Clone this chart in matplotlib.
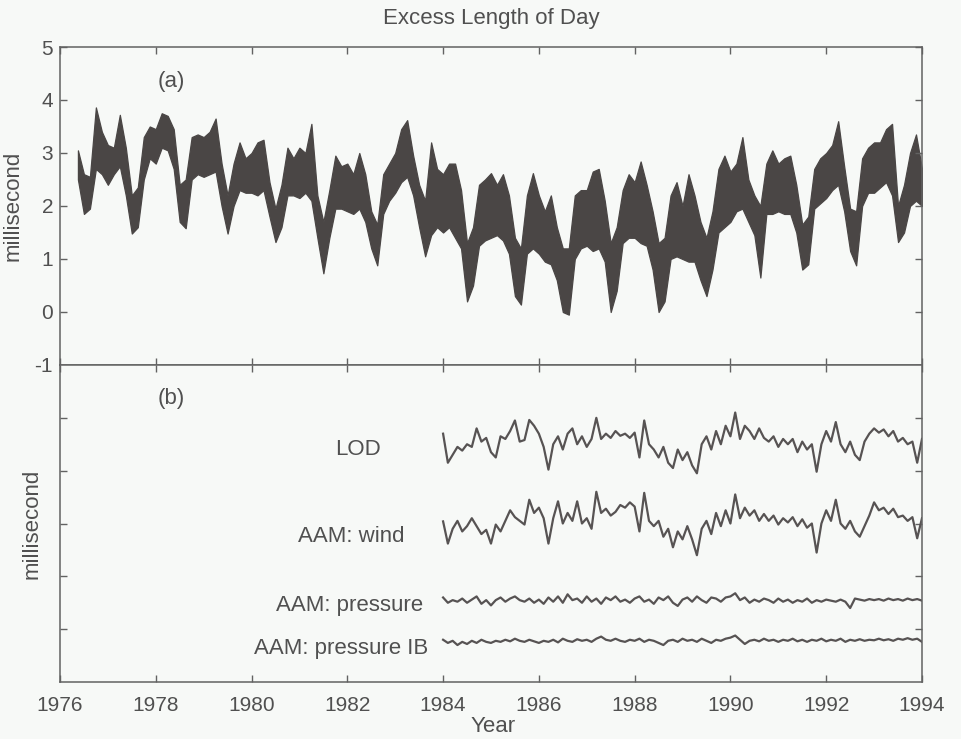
import numpy as np
import matplotlib

matplotlib.use("Agg")
import matplotlib.pyplot as plt

plt.rcParams["font.family"] = ["Liberation Sans", "DejaVu Sans"]
plt.rcParams["axes.unicode_minus"] = False

# ---- panel (a): excess LOD, band (low / high per 1/8 year)
lod_t = np.arange(1976.375, 1994.0001, 0.125)
lod_low = [
    2.50, 1.85, 1.95, 2.70, 2.60,                          # 1976
    2.40, 2.60, 2.75, 2.20, 1.48, 1.60, 2.50, 2.90,        # 1977
    2.80, 3.10, 3.05, 2.70, 1.70, 1.58, 2.50, 2.60,        # 1978
    2.55, 2.60, 2.65, 2.00, 1.48, 2.00, 2.30, 2.25,        # 1979
    2.25, 2.20, 2.30, 1.80, 1.32, 1.60, 2.20, 2.20,        # 1980
    2.15, 2.25, 2.10, 1.40, 0.73, 1.40, 1.95, 1.95,        # 1981
    1.90, 1.85, 1.95, 1.70, 1.20, 0.88, 1.85, 2.10,        # 1982
    2.25, 2.45, 2.55, 2.20, 1.60, 1.05, 1.45, 1.60,        # 1983
    1.50, 1.60, 1.40, 1.20, 0.20, 0.50, 1.25, 1.35,        # 1984
    1.40, 1.45, 1.35, 1.10, 0.30, 0.14, 1.10, 1.20,        # 1985
    1.10, 0.95, 0.90, 0.60, 0.00, -0.05, 1.00, 1.20,       # 1986
    1.25, 1.15, 1.20, 0.95, 0.00, 0.40, 1.30, 1.40,        # 1987
    1.40, 1.30, 1.25, 0.80, 0.00, 0.20, 1.00, 1.05,        # 1988
    1.00, 0.95, 0.95, 0.60, 0.30, 0.80, 1.50, 1.60,        # 1989
    1.70, 1.90, 1.95, 1.70, 1.45, 0.65, 1.85, 1.85,        # 1990
    1.90, 1.85, 1.85, 1.50, 0.80, 0.90, 1.95, 2.05,        # 1991
    2.15, 2.30, 2.40, 1.90, 1.15, 0.88, 2.00, 2.25,        # 1992
    2.25, 2.35, 2.45, 2.20, 1.32, 1.50, 2.00, 2.10,        # 1993
    2.00,                                                  # 1994
]
lod_high = [
    3.05, 2.60, 2.55, 3.86, 3.40,
    3.15, 3.10, 3.72, 3.10, 2.20, 2.35, 3.30, 3.50,
    3.45, 3.75, 3.70, 3.45, 2.40, 2.50, 3.30, 3.35,
    3.30, 3.40, 3.65, 2.80, 2.20, 2.80, 3.20, 2.90,
    3.00, 3.20, 3.25, 2.45, 1.95, 2.40, 3.10, 2.90,
    3.10, 3.00, 3.55, 2.20, 1.70, 2.30, 2.95, 2.75,
    2.80, 2.60, 3.00, 2.60, 1.90, 1.65, 2.60, 2.80,
    3.00, 3.45, 3.62, 2.95, 2.40, 2.10, 3.20, 2.70,
    2.60, 2.80, 2.80, 2.30, 1.30, 1.60, 2.40, 2.50,
    2.62, 2.40, 2.60, 2.20, 1.40, 1.20, 2.20, 2.62,
    2.20, 1.90, 2.20, 1.60, 1.20, 1.20, 2.20, 2.30,
    2.30, 2.65, 2.70, 2.10, 1.30, 1.60, 2.30, 2.60,
    2.45, 2.84, 2.40, 1.90, 1.30, 1.40, 2.20, 2.45,
    2.00, 2.60, 2.20, 1.70, 1.40, 1.90, 2.70, 2.95,
    2.65, 2.80, 3.30, 2.50, 2.20, 2.00, 2.80, 3.05,
    2.80, 2.90, 2.95, 2.40, 1.65, 1.80, 2.70, 2.90,
    3.00, 3.15, 3.60, 2.75, 1.95, 1.90, 2.90, 3.10,
    3.20, 3.20, 3.45, 3.55, 2.00, 2.40, 3.00, 3.35,
    2.70,
]

# ---- panel (b): stacked series 1984-1994, sampled every 0.1 year
b_t = np.arange(1984.0, 1994.0001, 0.1)
b_names = ["LOD", "AAM: wind", "AAM: pressure", "AAM: pressure IB"]
b_lod = [
    4.70, 4.15, 4.30, 4.45, 4.38, 4.50, 4.45, 4.80, 4.55, 4.62,
    4.35, 4.25, 4.65, 4.60, 4.75, 4.95, 4.55, 4.58, 4.96, 4.85,
    4.70, 4.45, 4.02, 4.50, 4.65, 4.40, 4.70, 4.80, 4.50, 4.65,
    4.45, 4.60, 5.00, 4.60, 4.70, 4.62, 4.75, 4.66, 4.70, 4.62,
    4.72, 4.25, 4.95, 4.50, 4.40, 4.25, 4.45, 4.15, 4.05, 4.40,
    4.20, 4.35, 4.10, 3.95, 4.50, 4.65, 4.40, 4.75, 4.50, 4.85,
    4.65, 5.10, 4.60, 4.85, 4.75, 4.60, 4.80, 4.62, 4.55, 4.65,
    4.45, 4.60, 4.50, 4.60, 4.35, 4.55, 4.40, 4.50, 3.98, 4.50,
    4.75, 4.55, 4.92, 4.50, 4.35, 4.55, 4.30, 4.20, 4.55, 4.70,
    4.80, 4.72, 4.78, 4.65, 4.75, 4.55, 4.62, 4.50, 4.55, 4.15,
    4.60,
]
b_wind = [
    3.04, 2.62, 2.90, 3.05, 2.85, 2.95, 3.10, 2.95, 2.80, 2.88,
    2.62, 2.98, 2.85, 3.05, 3.25, 3.12, 3.05, 2.98, 3.45, 3.20,
    3.30, 3.10, 2.62, 3.10, 3.42, 3.00, 3.20, 3.05, 3.42, 3.00,
    3.10, 2.90, 3.60, 3.20, 3.28, 3.15, 3.22, 3.35, 3.30, 3.40,
    3.32, 2.85, 3.58, 3.05, 2.95, 3.05, 2.75, 2.90, 2.55, 2.85,
    2.70, 2.95, 2.70, 2.40, 2.90, 3.05, 2.80, 3.20, 2.95, 3.25,
    3.00, 3.55, 3.10, 3.30, 3.15, 3.25, 3.05, 3.18, 3.05, 3.15,
    2.98, 3.10, 3.02, 3.12, 2.95, 3.08, 2.92, 3.00, 2.45, 3.00,
    3.25, 3.05, 3.45, 3.00, 2.90, 3.05, 2.85, 2.75, 2.95, 3.15,
    3.40, 3.25, 3.30, 3.18, 3.28, 3.12, 3.15, 3.05, 3.12, 2.72,
    3.10,
]
b_pres = [
    1.60, 1.50, 1.55, 1.52, 1.58, 1.50, 1.56, 1.62, 1.48, 1.55,
    1.45, 1.55, 1.60, 1.52, 1.58, 1.62, 1.55, 1.52, 1.58, 1.50,
    1.56, 1.48, 1.60, 1.52, 1.62, 1.50, 1.66, 1.55, 1.58, 1.50,
    1.62, 1.52, 1.58, 1.48, 1.60, 1.55, 1.62, 1.52, 1.56, 1.50,
    1.58, 1.62, 1.52, 1.56, 1.48, 1.60, 1.55, 1.62, 1.50, 1.44,
    1.56, 1.60, 1.52, 1.62, 1.55, 1.50, 1.60, 1.58, 1.52, 1.60,
    1.62, 1.68, 1.55, 1.60, 1.50, 1.56, 1.52, 1.58, 1.55, 1.50,
    1.58, 1.52, 1.56, 1.50, 1.55, 1.52, 1.58, 1.50, 1.55, 1.52,
    1.56, 1.54, 1.52, 1.56, 1.52, 1.40, 1.58, 1.56, 1.54, 1.57,
    1.55, 1.57, 1.54, 1.58, 1.55, 1.57, 1.54, 1.58, 1.55, 1.57,
    1.54,
]
b_pres_ib = [
    0.80, 0.74, 0.78, 0.70, 0.76, 0.72, 0.78, 0.74, 0.80, 0.76,
    0.74, 0.78, 0.76, 0.80, 0.77, 0.82, 0.78, 0.76, 0.80, 0.77,
    0.74, 0.78, 0.76, 0.80, 0.75, 0.82, 0.78, 0.76, 0.81, 0.78,
    0.80, 0.76, 0.82, 0.86, 0.80, 0.78, 0.82, 0.78, 0.76, 0.80,
    0.78, 0.82, 0.76, 0.80, 0.78, 0.74, 0.70, 0.78, 0.80, 0.76,
    0.82, 0.78, 0.80, 0.76, 0.82, 0.78, 0.74, 0.80, 0.78, 0.82,
    0.84, 0.88, 0.80, 0.72, 0.78, 0.80, 0.77, 0.82, 0.78, 0.80,
    0.76, 0.80, 0.78, 0.82, 0.77, 0.80, 0.76, 0.80, 0.78, 0.82,
    0.77, 0.80, 0.78, 0.82, 0.76, 0.80, 0.78, 0.81, 0.78, 0.80,
    0.79, 0.82, 0.79, 0.81, 0.78, 0.82, 0.80, 0.83, 0.80, 0.82,
    0.76,
]
b_series = [b_lod, b_wind, b_pres, b_pres_ib]
# where each name sits (year of right edge, y)
b_label_pos = [(1982.70, 4.41), (1983.20, 2.75), (1983.58, 1.44), (1983.68, 0.63)]

year_ticks = list(range(1976, 1995, 2))

assert len(lod_low) == len(lod_high) == len(lod_t)
for s in b_series:
    assert len(s) == len(b_t)

ink = "#4a4645"
ink_b = "#575353"
txt = "#505050"
frame = "#626262"
paper = "#f7f9f7"
fs = 15

fig = plt.figure(figsize=(9.61, 7.39), dpi=100, facecolor=paper)
ax1 = fig.add_axes([0.0624, 0.5061, 0.897, 0.4303], facecolor=paper)
ax2 = fig.add_axes([0.0624, 0.0771, 0.897, 0.4290], facecolor=paper)

ax1.fill_between(lod_t, lod_low, lod_high, color=ink, linewidth=0.9,
                 edgecolor=ink)
ax1.set_ylim(-1, 5)
ax1.set_yticks(range(-1, 6))
ax1.set_ylabel("millisecond", fontsize=16, color=txt)
ax1.yaxis.set_label_coords(-0.042, 0.5)
ax1.text(1978.03, 4.34, "(a)", fontsize=16, color=txt, va="center")
ax1.tick_params(labelbottom=False)

for vals, name, (lx, ly) in zip(b_series, b_names, b_label_pos):
    ax2.plot(b_t, vals, color=ink_b, linewidth=1.6)
    ax2.text(lx, ly, name, fontsize=16, color=txt, ha="right", va="center")
ax2.set_ylim(0, 6)
ax2.set_yticks(range(1, 6))
ax2.tick_params(labelleft=False)
ax2.set_ylabel("millisecond", fontsize=16, color=txt)
ax2.yaxis.set_label_coords(-0.020, 0.5)
ax2.set_xlabel("Year", fontsize=16, color=txt)
ax2.xaxis.set_label_coords(0.502, -0.108)
ax2.text(1978.03, 5.36, "(b)", fontsize=16, color=txt, va="center")

for ax in (ax1, ax2):
    ax.set_xlim(1976, 1994)
    ax.set_xticks(year_ticks)
    ax.tick_params(direction="in", length=5, width=1, color=frame,
                   top=True, right=True, labelsize=fs, labelcolor=txt)
    ax.tick_params(axis="x", pad=10)
    ax.tick_params(axis="y", pad=5)
    for sp in ax.spines.values():
        sp.set_color(frame)
        sp.set_linewidth(1.1)

fig.text(0.511, 0.9756, "Excess Length of Day", fontsize=16, color=txt,
         ha="center", va="center")

fig.savefig("out.png", dpi=100, facecolor=paper)
